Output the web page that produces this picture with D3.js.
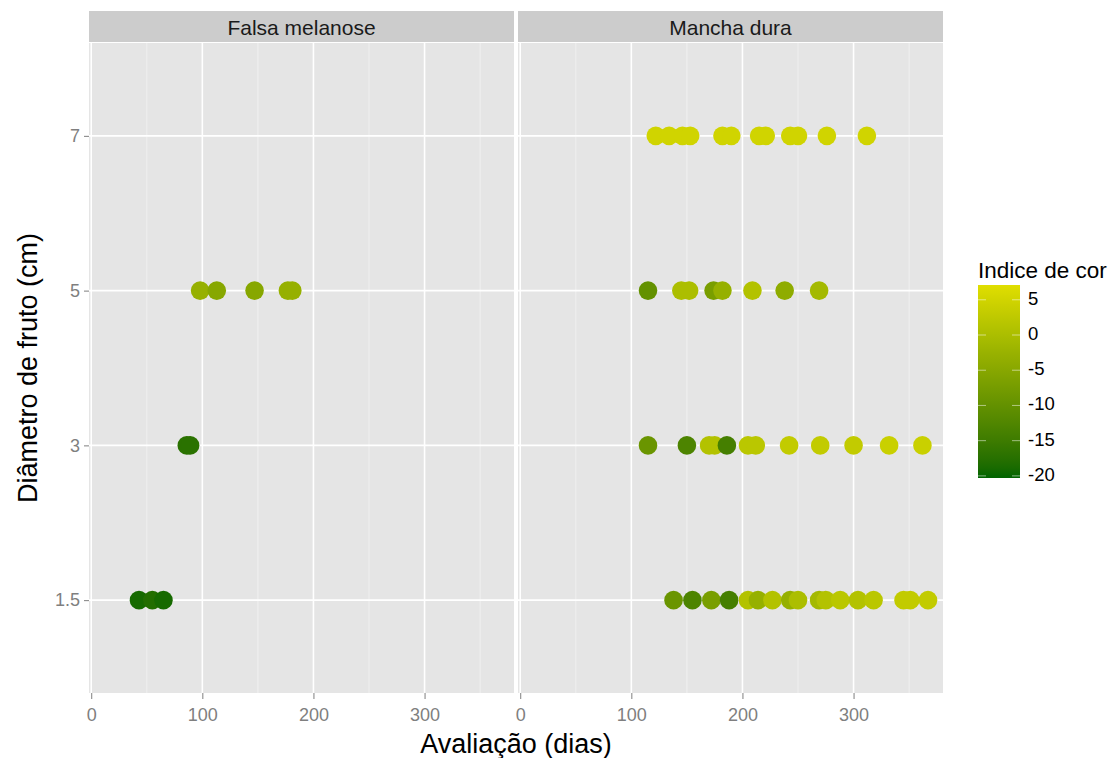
<!DOCTYPE html>
<html>
<head>
<meta charset="utf-8">
<script src="https://cdn.jsdelivr.net/npm/d3@7"></script>
<style>
  html, body { margin: 0; padding: 0; background: #fff; }
  svg { display: block; font-family: "Liberation Sans", Arial, sans-serif; }
</style>
</head>
<body>
<svg id="chart" width="1119" height="758"></svg>
<script>
// Facets and the discrete fruit-diameter axis
const facets = ["Falsa melanose", "Mancha dura"];
const diameters = ["1.5", "3", "5", "7"];
const xTicks = [0, 100, 200, 300];
const xMinor = [50, 150, 250, 350];
const legendTicks = [5, 0, -5, -10, -15, -20];

// Falsa melanose: evaluation day, fruit diameter, colour index
const fmDays  = [43, 55, 65, 86, 89, 98, 113, 147, 177, 181];
const fmDiam  = ["1.5", "1.5", "1.5", "3", "3", "5", "5", "5", "5", "5"];
const fmIndex = [-19, -18, -19, -17, -17, -3, -5, -5, -3, -3];

// Mancha dura: evaluation day, fruit diameter, colour index
const mdDays = [
  122, 134, 146, 153, 182, 190, 215, 221, 243, 250, 276, 312,
  115, 145, 152, 174, 182, 209, 238, 269,
  115, 150, 170, 175, 186, 205, 212, 242, 270, 300, 332, 362,
  138, 155, 172, 188, 205, 214, 227, 243, 250, 269, 275, 288, 304, 318, 345, 351, 367
];
const mdDiam = [
  "7", "7", "7", "7", "7", "7", "7", "7", "7", "7", "7", "7",
  "5", "5", "5", "5", "5", "5", "5", "5",
  "3", "3", "3", "3", "3", "3", "3", "3", "3", "3", "3", "3",
  "1.5", "1.5", "1.5", "1.5", "1.5", "1.5", "1.5", "1.5", "1.5", "1.5", "1.5", "1.5", "1.5", "1.5", "1.5", "1.5", "1.5"
];
const mdIndex = [
  5, 5, 5, 5, 5, 5, 5, 5, 5, 5, 5, 5,
  -10, 0, 0, -7, -3, 1, -4, -1,
  -9, -13, 1, 1, -14, 2, 2, 3, 3, 3, 4, 4,
  -9, -13, -7, -14, 1, -3, 1, -3, 0, -1, 1, 2, 1, 2, 3, 3, 3
];

const rows = [
  ...fmDays.map((d, i) => ({ facet: facets[0], day: d, diam: fmDiam[i], idx: fmIndex[i] })),
  ...mdDays.map((d, i) => ({ facet: facets[1], day: d, diam: mdDiam[i], idx: mdIndex[i] }))
];

const svg = d3.select("#chart");
const FONT = "'Liberation Sans', Arial, sans-serif";

// Layout
const panelTop = 43, panelBottom = 693, stripTop = 11;
const panelLefts = [89, 518], panelW = 425;

const x = d3.scaleLinear().domain([-2, 380.5]).range([0, panelW]);
const y = d3.scalePoint().domain(diameters).range([panelBottom, panelTop]).padding(0.6);
const color = d3.scaleLinear().domain([-20.3, 7.1]).range(["#006400", "#e0de00"])
  .interpolate(d3.interpolateLab).clamp(true);

const grey50 = "#7f7f7f";

// soft edge on the points
const defs = svg.append("defs");
defs.append("filter").attr("id", "soft")
  .append("feGaussianBlur").attr("stdDeviation", 0.6);

facets.forEach((f, fi) => {
  const g = svg.append("g").attr("transform", `translate(${panelLefts[fi]},0)`);

  // panel background
  g.append("rect").attr("x", 0).attr("y", panelTop)
    .attr("width", panelW).attr("height", panelBottom - panelTop).attr("fill", "#e5e5e5");

  // minor grid
  g.selectAll(".minor").data(xMinor).join("line")
    .attr("x1", d => x(d)).attr("x2", d => x(d))
    .attr("y1", panelTop).attr("y2", panelBottom)
    .attr("stroke", "#f2f2f2").attr("stroke-width", 0.8);

  // major grid
  g.selectAll(".majx").data(xTicks).join("line")
    .attr("x1", d => x(d)).attr("x2", d => x(d))
    .attr("y1", panelTop).attr("y2", panelBottom)
    .attr("stroke", "#ffffff").attr("stroke-width", 1.6);
  g.selectAll(".majy").data(diameters).join("line")
    .attr("x1", 0).attr("x2", panelW)
    .attr("y1", d => y(d)).attr("y2", d => y(d))
    .attr("stroke", "#ffffff").attr("stroke-width", 1.6);

  // strip
  g.append("rect").attr("x", 0).attr("y", stripTop)
    .attr("width", panelW).attr("height", panelTop - stripTop - 1).attr("fill", "#cccccc");
  g.append("text").attr("x", panelW / 2).attr("y", 35)
    .attr("text-anchor", "middle")
    .attr("font-size", 21).attr("fill", "#1a1a1a").text(f);

  // x axis
  const xa = g.append("g").attr("transform", `translate(0,${panelBottom})`)
    .call(d3.axisBottom(x).tickValues(xTicks).tickSize(6).tickPadding(9).tickFormat(d3.format("d")));
  xa.select(".domain").remove();
  xa.selectAll("line").attr("stroke", grey50);
  xa.selectAll("text").attr("fill", grey50).attr("font-size", 18).attr("font-family", FONT);

  // points
  g.append("g").attr("filter", "url(#soft)")
    .selectAll("circle").data(rows.filter(r => r.facet === f)).join("circle")
    .attr("cx", d => x(d.day)).attr("cy", d => y(d.diam)).attr("r", 9.3)
    .attr("fill", d => color(d.idx));
});

// y axis
const ya = svg.append("g").attr("transform", `translate(${panelLefts[0]},0)`)
  .call(d3.axisLeft(y).tickSize(5).tickPadding(4));
ya.select(".domain").remove();
ya.selectAll("line").attr("stroke", grey50);
ya.selectAll("text").attr("fill", grey50).attr("font-size", 18).attr("font-family", FONT);

// axis titles
svg.append("text").attr("x", (panelLefts[0] + panelLefts[1] + panelW) / 2).attr("y", 753)
  .attr("text-anchor", "middle").attr("font-size", 27).attr("fill", "#000")
  .text("Avaliação (dias)");
svg.append("text").attr("transform", `translate(37,${(panelTop + panelBottom) / 2}) rotate(-90)`)
  .attr("text-anchor", "middle").attr("font-size", 27).attr("fill", "#000")
  .text("Diâmetro de fruto (cm)");

// colour legend
const legX = 978, legW = 42, legTop = 285, legBottom = 478;
const ly = d3.scaleLinear().domain([-20.3, 7.1]).range([legBottom, legTop]);
svg.append("text").attr("x", legX).attr("y", 278).attr("font-size", 22.5).attr("fill", "#000")
  .text("Indice de cor");

const grad = defs.append("linearGradient").attr("id", "cbar")
  .attr("x1", 0).attr("y1", 1).attr("x2", 0).attr("y2", 0);
d3.range(0, 1.0001, 0.05).forEach(t => {
  grad.append("stop").attr("offset", t)
    .attr("stop-color", color(-20.3 + t * (7.1 + 20.3)));
});
svg.append("rect").attr("x", legX).attr("y", legTop)
  .attr("width", legW).attr("height", legBottom - legTop).attr("fill", "url(#cbar)");

const lt = svg.append("g");
legendTicks.forEach(v => {
  const yy = ly(v);
  lt.append("line").attr("x1", legX).attr("x2", legX + 8).attr("y1", yy).attr("y2", yy)
    .attr("stroke", "#ffffff").attr("stroke-opacity", 0.5);
  lt.append("line").attr("x1", legX + legW - 8).attr("x2", legX + legW).attr("y1", yy).attr("y2", yy)
    .attr("stroke", "#ffffff").attr("stroke-opacity", 0.5);
  lt.append("text").attr("x", legX + 50).attr("y", yy).attr("dominant-baseline", "middle")
    .attr("font-size", 18.5).attr("fill", "#000").text(v);
});
</script>
</body>
</html>
